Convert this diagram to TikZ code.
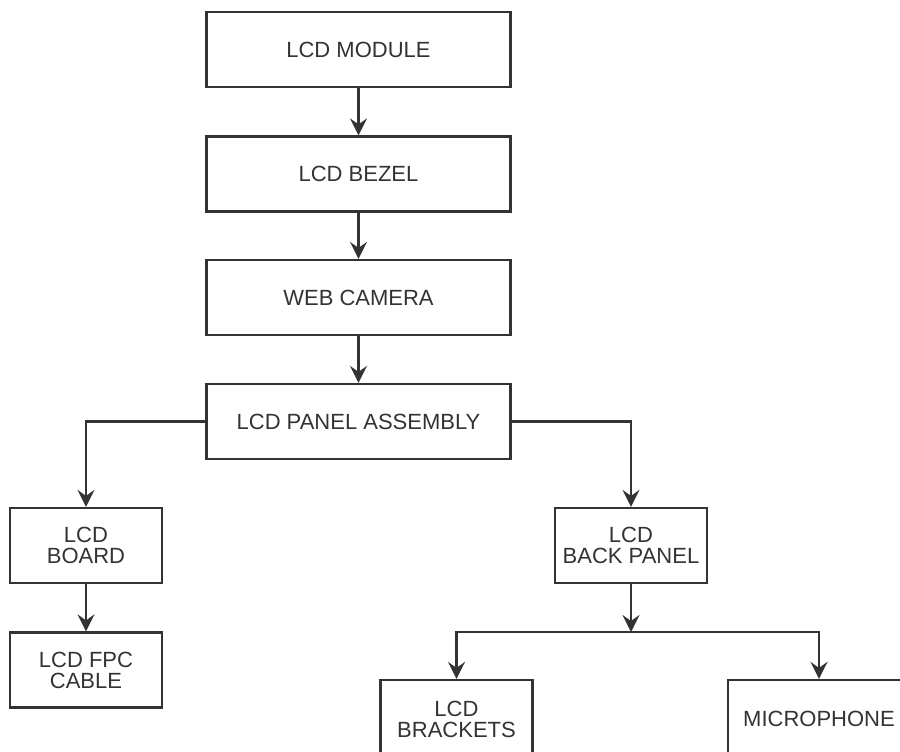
\documentclass[tikz,border=0pt]{standalone}
\usepackage{fontspec}
\setmainfont{Liberation Sans}
\usetikzlibrary{arrows.meta,calc}
\definecolor{ink}{HTML}{333333}
\begin{document}
\begin{tikzpicture}[x=1pt,y=-1pt,
  part/.style={draw=ink,line width=2.2pt,text=ink,align=center,inner sep=0pt,
    font=\fontsize{22}{21}\selectfont},
  wide/.style={part,minimum width=304pt,minimum height=75pt},
  small/.style={part,minimum width=152pt,minimum height=75pt},
  link/.style={draw=ink,line width=2.2pt,-{Stealth[length=17pt,width=17pt,inset=6pt]}}]
\useasboundingbox (0,0) rectangle (900,752);
\clip (0,0) rectangle (900,752);

\node[wide] (module) at (358.5,49.5) {LCD MODULE};
\node[wide] (bezel) at (358.5,174) {LCD BEZEL};
\node[wide] (camera) at (358.5,297.5) {WEB CAMERA};
\node[wide] (assembly) at (358.5,421.5) {LCD PANEL ASSEMBLY};

\node[small] (board) at (86,545.5) {LCD\\BOARD};
\node[small] (fpc) at (86,670) {LCD FPC\\CABLE};
\node[small] (back) at (631,545.5) {LCD\\BACK PANEL};

\node[small,minimum height=78pt] (brackets) at (456.5,719) {LCD\\BRACKETS};
\node[part,minimum width=182pt,minimum height=78pt] (mic) at (819,719) {MICROPHONE};

\coordinate (split) at (back |- 0,632);

\draw[link] (module) -- (bezel);
\draw[link] (bezel) -- (camera);
\draw[link] (camera) -- (assembly);
\draw[link] (assembly.west) -| (board.north);
\draw[link] (assembly.east) -| (back.north);
\draw[link] (board) -- (fpc);
\draw[link] (back) -- (split);
\draw[link] (split) -| (brackets.north);
\draw[link] (split) -| (mic.north);

\end{tikzpicture}
\end{document}
